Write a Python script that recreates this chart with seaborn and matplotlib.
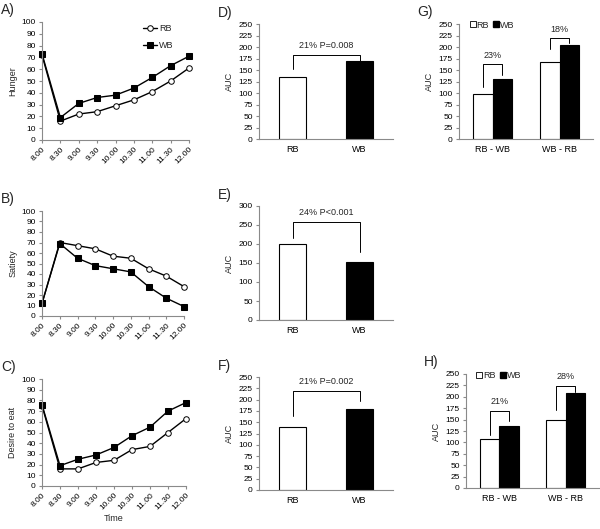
import pandas as pd
import seaborn as sns
import matplotlib.pyplot as plt
from matplotlib.lines import Line2D

# time course data
times = ['8.00', '8.30', '9.00', '9.30', '10.00', '10.30', '11.00', '11.30', '12.00']
hunger_rb = [72, 16, 22, 24, 29, 34, 41, 50, 61]
hunger_wb = [73, 19, 31, 36, 38, 44, 53, 63, 71]
satiety_rb = [12, 70, 67, 64, 57, 55, 45, 38, 28]
satiety_wb = [12, 69, 55, 48, 45, 42, 28, 17, 9]
desire_rb = [75, 16, 16, 22, 24, 34, 37, 50, 63]
desire_wb = [76, 19, 25, 29, 36, 47, 55, 70, 78]

# AUC data
breads = ['RB', 'WB']
auc_hunger = [134, 170]
auc_satiety = [199, 152]
auc_desire = [139, 179]

orders = ['RB - WB', 'WB - RB']
order_hunger_rb = [98, 167]
order_hunger_wb = [130, 205]
order_desire_rb = [107, 150]
order_desire_wb = [136, 209]

# bracket annotations: text, top, left leg end, right leg end
brk_D = ('21% P=0.008', 183, 152, 170)
brk_E = ('24% P<0.001', 258, 217, 178)
brk_F = ('21% P=0.002', 220, 163, 197)
brk_G = [('23%', 162, 113, 139), ('18%', 219, 195, 208)]
brk_H = [('21%', 169, 117, 147), ('28%', 224, 171, 211)]

sns.set_theme(style='ticks')
plt.rcParams['font.family'] = ['Liberation Sans', 'DejaVu Sans']
plt.rcParams['axes.edgecolor'] = '#8a8a8a'
plt.rcParams['xtick.color'] = '#8a8a8a'
plt.rcParams['ytick.color'] = '#8a8a8a'
plt.rcParams['xtick.labelcolor'] = 'black'
plt.rcParams['ytick.labelcolor'] = 'black'
plt.rcParams['axes.linewidth'] = 0.8

W, H = 600, 529
fig = plt.figure(figsize=(6, 5.29), dpi=100)


def px_axes(x0, y0, x1, y1):
    return fig.add_axes([x0 / W, 1 - y1 / H, (x1 - x0) / W, (y1 - y0) / H])


def style(ax, ylabel):
    sns.despine(ax=ax)
    ax.set_ylabel(ylabel, fontsize=6.5, labelpad=3)
    ax.tick_params(axis='y', labelsize=6, length=2.5, width=0.8, pad=2)


def letter_at(x, y, letter):
    fig.text(x / W, 1 - y / H, letter, fontsize=10, va='top')


def line_panel(box, rb, wb, ylabel, letter, legend=False, xlabel=None):
    ax = px_axes(*box)
    x = list(range(len(times)))
    sns.lineplot(x=x, y=rb, color='black', lw=1.0, marker='o', markersize=4,
                 markerfacecolor='white', markeredgecolor='black', markeredgewidth=0.7,
                 clip_on=False, ax=ax, label='RB')
    sns.lineplot(x=x, y=wb, color='black', lw=1.0, marker='s', markersize=3.8,
                 markerfacecolor='black', markeredgecolor='black',
                 clip_on=False, ax=ax, label='WB')
    ax.set_xlim(0, len(times) - 1)
    ax.set_ylim(0, 100)
    ax.set_yticks(range(0, 101, 10))
    ax.set_xticks(x)
    ax.set_xticklabels(times, rotation=45, ha='right', rotation_mode='anchor', fontsize=6)
    ax.tick_params(axis='x', length=2, width=0.8, pad=2)
    style(ax, ylabel)
    if legend:
        ax.legend(loc='upper right', bbox_to_anchor=(0.95, 1.05), frameon=False,
                  fontsize=6.5, handlelength=1.6, handletextpad=0.2, labelspacing=0.9)
    else:
        ax.get_legend().remove()
    if xlabel:
        ax.set_xlabel(xlabel, fontsize=6.5, labelpad=2)
    letter_at(box[0] - 41, box[1] - 19, letter)
    return ax


def bracket(ax, x0, x1, spec, dy):
    text, top, left, right = spec
    ax.plot([x0, x0, x1, x1], [left, top, top, right], color='black', lw=0.7)
    ax.text((x0 + x1) / 2, top + dy, text, ha='center', va='bottom', fontsize=6.5)


def bar_panel(box, vals, ymax, step, letter, spec):
    ax = px_axes(*box)
    sns.barplot(x=breads, y=vals, hue=breads, palette=['white', 'black'],
                edgecolor='black', linewidth=0.8, width=0.4, legend=False, ax=ax)
    ax.set_xlim(-0.5, 1.5)
    ax.set_ylim(0, ymax)
    ax.set_yticks(range(0, ymax + 1, step))
    ax.tick_params(axis='x', length=0, labelsize=6.5, pad=4)
    style(ax, 'AUC')
    bracket(ax, 0, 1, spec, ymax * 0.04)
    letter_at(box[0] - 41, box[1] - 18, letter)
    return ax


def group_panel(box, rb, wb, letter, specs):
    ax = px_axes(*box)
    df = pd.DataFrame({'order': orders * 2,
                       'bread': ['RB'] * 2 + ['WB'] * 2,
                       'auc': rb + wb})
    sns.barplot(data=df, x='order', y='auc', hue='bread',
                palette={'RB': 'white', 'WB': 'black'}, edgecolor='black',
                linewidth=0.8, width=0.58, legend=False, ax=ax)
    ax.set_xlim(-0.5, 1.5)
    ax.set_ylim(0, 250)
    ax.set_yticks(range(0, 251, 25))
    ax.set_xlabel('')
    ax.tick_params(axis='x', length=0, labelsize=6.5, pad=4)
    style(ax, 'AUC')
    for i, spec in enumerate(specs):
        bracket(ax, i - 0.145, i + 0.145, spec, 10)
    handles = [Line2D([], [], ls='', marker='s', markersize=5, markerfacecolor='white',
                      markeredgecolor='black', markeredgewidth=0.6),
               Line2D([], [], ls='', marker='s', markersize=5, markerfacecolor='black',
                      markeredgecolor='black')]
    ax.legend(handles, breads, loc='upper left', bbox_to_anchor=(0.02, 1.1), ncol=2,
              frameon=False, fontsize=6.5, handlelength=0.6, handletextpad=0.15,
              columnspacing=0.5)
    letter_at(box[0] - 42, box[1] - 19, letter)
    return ax


line_panel((42, 22, 189, 140), hunger_rb, hunger_wb, 'Hunger', 'A)', legend=True)
line_panel((42, 211, 184, 316), satiety_rb, satiety_wb, 'Satiety', 'B)')
line_panel((42, 379, 186, 486), desire_rb, desire_wb, 'Desire to eat', 'C)', xlabel='Time')

bar_panel((259, 24, 393, 139), auc_hunger, 250, 25, 'D)', brk_D)
bar_panel((259, 206, 393, 320), auc_satiety, 300, 50, 'E)', brk_E)
bar_panel((259, 377, 393, 490), auc_desire, 250, 25, 'F)', brk_F)

group_panel((459, 24, 593, 139), order_hunger_rb, order_hunger_wb, 'G)', brk_G)
group_panel((466, 374, 599, 488), order_desire_rb, order_desire_wb, 'H)', brk_H)

fig.savefig('out.png', dpi=100)
